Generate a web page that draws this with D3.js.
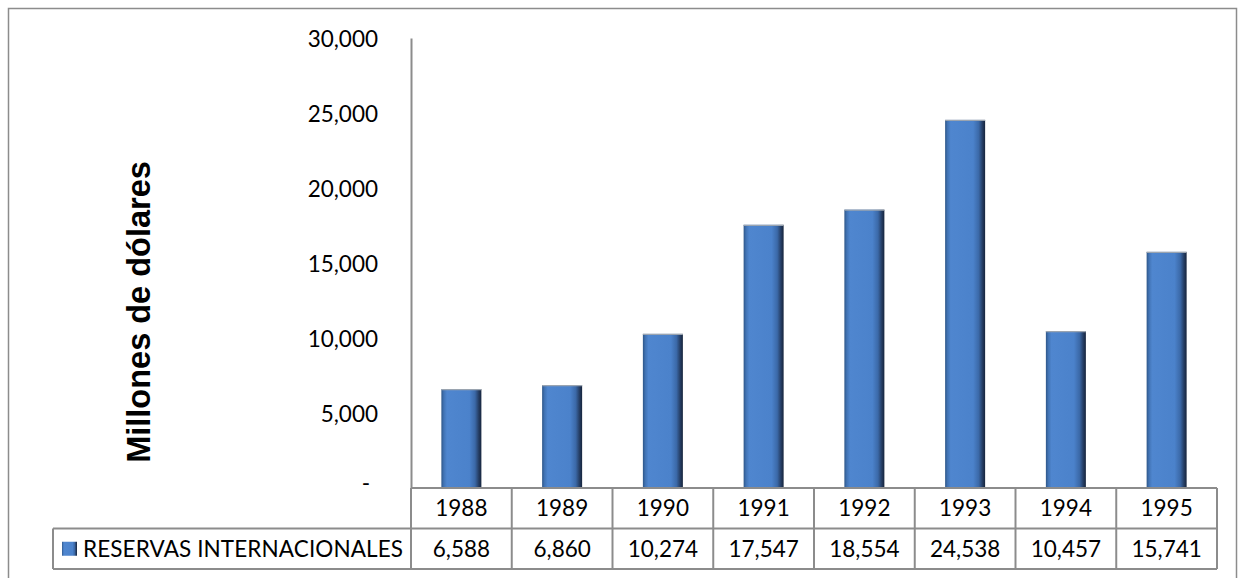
<!DOCTYPE html>
<html>
<head>
<meta charset="utf-8">
<script src="https://cdn.jsdelivr.net/npm/d3@7"></script>
<style>
  html, body { margin: 0; padding: 0; background: #fff; }
  svg { display: block; }
</style>
</head>
<body>
<script>
// Reservas internacionales, millones de dólares
const years = ["1988", "1989", "1990", "1991", "1992", "1993", "1994", "1995"];
const reservas = [6588, 6860, 10274, 17547, 18554, 24538, 10457, 15741];
const seriesName = "RESERVAS INTERNACIONALES";
const yTicks = [0, 5000, 10000, 15000, 20000, 25000, 30000];
const yTitle = "Millones de dólares";

const W = 1246, H = 578;
const plot = { left: 411, right: 1217, top: 38, bottom: 488 };
const rowH = 40.5;
const legendLeft = 53;
const numFont = "Lato, 'Open Sans', sans-serif";
const numSize = 22.5;
const gridColor = "#8c8c8c";

const svg = d3.select("body").append("svg")
  .attr("width", W).attr("height", H);

// bar shading: dark right edge, slightly darker left edge
const defs = svg.append("defs");
const grad = defs.append("linearGradient").attr("id", "barFill")
  .attr("x1", "0%").attr("x2", "100%").attr("y1", "0%").attr("y2", "0%");
[["0%", "#2e5688"], ["6%", "#4173b4"], ["14%", "#4f86cf"], ["70%", "#4b82cb"],
 ["84%", "#3b69a8"], ["93%", "#263f66"], ["100%", "#16243c"]]
  .forEach(([o, c]) => grad.append("stop").attr("offset", o).attr("stop-color", c));

// chart frame
svg.append("rect")
  .attr("x", 8.5).attr("y", 8.5).attr("width", 1228).attr("height", 600)
  .attr("fill", "none").attr("stroke", gridColor).attr("stroke-width", 1.5);

const x = d3.scaleBand().domain(years).range([plot.left, plot.right]).paddingInner(0).paddingOuter(0);
const y = d3.scaleLinear().domain([0, 30000]).range([plot.bottom, plot.top]);

// value axis
const fmt = d => d === 0 ? "-" : d3.format(",")(d);
const yAxis = svg.append("g")
  .attr("transform", `translate(${plot.left},0)`)
  .call(d3.axisLeft(y).tickValues(yTicks).tickFormat(fmt).tickSize(0).tickPadding(33));
yAxis.select(".domain").attr("stroke", gridColor).attr("stroke-width", 2);
yAxis.selectAll("text")
  .attr("font-family", numFont).attr("font-size", numSize).attr("fill", "#000")
  .attr("dy", "0.38em");
yAxis.selectAll(".tick").filter(d => d === 0).select("text").attr("dx", -8).attr("dy", "0.1em");

// axis title
svg.append("text")
  .attr("transform", `translate(150,${(162 + 462) / 2}) rotate(-90)`)
  .attr("text-anchor", "middle")
  .attr("font-family", "'Liberation Sans', Arial, sans-serif")
  .attr("font-weight", "bold").attr("font-size", 32.5)
  .attr("fill", "#000")
  .text(yTitle);

// bars
const barW = 40;
const barData = years.map((yr, i) => ({ yr, v: reservas[i] }));
svg.append("g").selectAll("rect")
  .data(barData)
  .join("rect")
  .attr("x", d => x(d.yr) + x.bandwidth() / 2 - barW / 2)
  .attr("y", d => y(d.v))
  .attr("width", barW)
  .attr("height", d => y(0) - y(d.v))
  .attr("fill", "url(#barFill)");
svg.append("g").selectAll("line")
  .data(barData)
  .join("line")
  .attr("x1", d => x(d.yr) + x.bandwidth() / 2 - barW / 2)
  .attr("x2", d => x(d.yr) + x.bandwidth() / 2 + barW / 2)
  .attr("y1", d => y(d.v) + 0.5).attr("y2", d => y(d.v) + 0.5)
  .attr("stroke", "#9aa4b0").attr("stroke-width", 1.2);

// data table
const tbl = svg.append("g");
const r1 = plot.bottom, r2 = plot.bottom + rowH, r3 = plot.bottom + 2 * rowH;
const line = (x1, y1, x2, y2) => tbl.append("line")
  .attr("x1", x1).attr("y1", y1).attr("x2", x2).attr("y2", y2)
  .attr("stroke", gridColor).attr("stroke-width", 2);
line(plot.left, r1, plot.right, r1);
line(legendLeft, r2, plot.right, r2);
line(legendLeft, r3, plot.right, r3);
line(legendLeft, r2, legendLeft, r3);
years.forEach(yr => line(x(yr), r1, x(yr), r3));
line(plot.right, r1, plot.right, r3);

tbl.selectAll("text.yr").data(years).join("text")
  .attr("class", "yr")
  .attr("x", d => x(d) + x.bandwidth() / 2).attr("y", (r1 + r2) / 2)
  .attr("dy", "0.36em").attr("text-anchor", "middle")
  .attr("font-family", numFont).attr("font-size", numSize).attr("fill", "#000")
  .text(d => d);
tbl.selectAll("text.val").data(reservas).join("text")
  .attr("class", "val")
  .attr("x", (d, i) => x(years[i]) + x.bandwidth() / 2).attr("y", (r2 + r3) / 2)
  .attr("dy", "0.36em").attr("text-anchor", "middle")
  .attr("font-family", numFont).attr("font-size", numSize).attr("fill", "#000")
  .text(d => d3.format(",")(d));

// legend key and series name
const keyY = (r2 + r3) / 2;
tbl.append("rect")
  .attr("x", 62).attr("y", keyY - 7).attr("width", 15).attr("height", 14)
  .attr("fill", "url(#barFill)");
tbl.append("text")
  .attr("x", 83).attr("y", keyY).attr("dy", "0.36em")
  .attr("font-family", numFont).attr("font-size", numSize).attr("fill", "#000")
  .attr("textLength", 320).attr("lengthAdjust", "spacing")
  .text(seriesName);
</script>
</body>
</html>
